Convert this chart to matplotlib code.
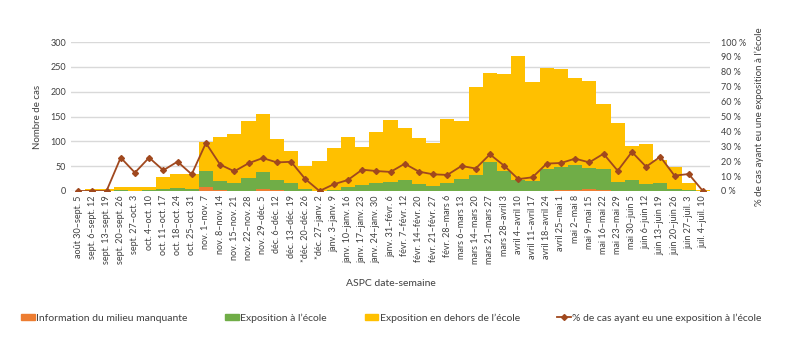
import matplotlib
matplotlib.use("Agg")
import numpy as np
import matplotlib.pyplot as plt
from matplotlib.patches import Patch
from matplotlib.lines import Line2D
from matplotlib.ticker import FuncFormatter


weeks = [
    "août 30–sept. 5", "sept. 6–sept. 12", "sept. 13–sept. 19",
    "sept. 20–sept. 26", "sept. 27–oct. 3", "oct. 4–oct. 10",
    "oct. 11–oct. 17", "oct. 18–oct. 24", "oct. 25–oct. 31",
    "nov. 1–nov. 7", "nov. 8–nov. 14", "nov. 15–nov. 21",
    "nov. 22–nov. 28", "nov. 29–déc. 5", "déc. 6–déc. 12",
    "déc. 13–déc. 19", "*déc. 20–déc. 26", "*déc. 27–janv. 2",
    "janv. 3–janv. 9", "janv. 10–janv. 16", "janv. 17–janv. 23",
    "janv. 24–janv. 30", "janv. 31–févr. 6", "févr. 7–févr. 12",
    "févr. 14–févr. 20", "févr. 21–févr. 27", "févr. 28–mars 6",
    "mars 6–mars 13", "mars 14–mars 20", "mars 21–mars 27",
    "mars 28–avril 3", "avril 4–avril 10", "avril 11–avril 17",
    "avril 18–avril 24", "avril 25–mai 1", "mai 2–mai 8",
    "mai 9–mai 15", "mai 16–mai 22", "mai 23–mai 29",
    "mai 30–juin 5", "juin 6–juin 12", "juin 13–juin 19",
    "juin 20–juin 26", "juin 27–juil. 3", "juil. 4–juil. 10",
]

# cases with missing setting information
missing = [0, 0, 0, 0, 0, 0, 0, 0, 0, 8, 2, 1, 1, 4, 2, 1, 0, 0,
           0, 0, 1, 1, 1, 0, 0, 0, 1, 1, 1, 0, 0, 0, 0, 0, 2, 2,
           4, 2, 0, 0, 0, 1, 0, 0, 0]
# cases exposed at school
school = [0, 0, 0, 2, 1, 2, 4, 7, 4, 32, 19, 15, 25, 34, 20, 16, 4, 0,
          3, 8, 12, 16, 18, 23, 14, 10, 15, 24, 31, 59, 40, 22, 20, 44,
          46, 51, 42, 42, 18, 23, 15, 15, 5, 2, 0]
# cases exposed outside school
outside = [1, 4, 4, 7, 7, 7, 24, 28, 31, 58, 87, 98, 114, 118, 82, 63,
           46, 61, 84, 101, 76, 101, 123, 103, 93, 86, 129, 116, 177,
           179, 196, 249, 199, 203, 197, 175, 176, 131, 119, 67, 80, 47,
           44, 14, 3]
# % of cases with a school exposure
pct_school = [0, 0, 0, 22.4, 12.3, 22.4, 13.9, 19.7, 11.2, 32.2, 17.7,
              13.2, 18.6, 22.1, 19.2, 19.6, 8, 0, 4.5, 7.4, 14.3, 13.4,
              12.8, 18.3, 13, 11.2, 10.8, 16.8, 15.1, 24.6, 17, 8, 9.2,
              18.4, 18.8, 21.7, 19.2, 25, 13.6, 26.2, 16.3, 23, 10.3,
              11.4, 0]

legend_labels = [
    "Information du milieu manquante",
    "Exposition à l’école",
    "Exposition en dehors de l’école",
    "% de cas ayant eu une exposition à l’école",
]


def main():
    """Stacked weekly cases with the school exposure share on a second axis."""
    plt.rcParams["font.family"] = ["Lato", "DejaVu Sans"]
    text_col = "#404040"
    c_missing = "#ED7D31"
    c_school = "#70AD47"
    c_outside = "#FFC000"
    c_line = "#A0481E"

    fig = plt.figure(figsize=(7.92, 3.6), dpi=100)
    ax = fig.add_axes([71 / 792, 1 - 191 / 360, 639 / 792, 149 / 360])

    x = np.arange(len(weeks))
    m = np.array(missing)
    s = np.array(school)
    o = np.array(outside)

    ax.bar(x, m, width=1.0, color=c_missing, zorder=2)
    ax.bar(x, s, width=1.0, bottom=m, color=c_school, zorder=2)
    ax.bar(x, o, width=1.0, bottom=m + s, color=c_outside, zorder=2)

    ax.set_xlim(-0.5, len(weeks) - 0.5)
    ax.set_ylim(0, 300)
    ax.set_yticks(range(0, 301, 50))
    ax.grid(axis="y", color="#D9D9D9", linewidth=1, zorder=0)
    ax.set_axisbelow(True)
    ax.set_xticks(x)
    ax.set_xticklabels(weeks, rotation=90, fontsize=6.5, color=text_col)
    ax.tick_params(axis="both", length=0, labelsize=6.5,
                   labelcolor=text_col)
    ax.tick_params(axis="x", pad=3)
    for sp in ax.spines.values():
        sp.set_visible(False)
    ax.set_ylabel("Nombre de cas", fontsize=7, color=text_col, labelpad=6)
    ax.set_xlabel("ASPC date-semaine", fontsize=7.5, color=text_col,
                  labelpad=11)

    ax2 = ax.twinx()
    ax2.plot(x, pct_school, color=c_line, linewidth=1.3, marker="D",
             markersize=3, zorder=3)
    ax2.set_ylim(0, 100)
    ax2.set_yticks(range(0, 101, 10))
    ax2.yaxis.set_major_formatter(FuncFormatter(lambda v, p: f"{v:.0f} %"))
    ax2.tick_params(axis="y", length=0, labelsize=6.5, labelcolor=text_col,
                    pad=8)
    for sp in ax2.spines.values():
        sp.set_visible(False)
    ax2.set_ylabel(legend_labels[3], fontsize=7, color=text_col,
                   labelpad=6)

    handles = [
        Patch(color=c_missing),
        Patch(color=c_school),
        Patch(color=c_outside),
        Line2D([], [], color=c_line, linewidth=1.3, marker="D",
               markersize=3),
    ]
    fig.legend(handles, legend_labels, loc="center left",
               bbox_to_anchor=(12 / 792, 1 - 318 / 360), ncol=4,
               frameon=False, fontsize=7.5, handlelength=1.3,
               handleheight=0.5, handletextpad=0.15, columnspacing=3.6,
               labelcolor=text_col)

    fig.savefig("out.png", dpi=100)


if __name__ == "__main__":
    main()
